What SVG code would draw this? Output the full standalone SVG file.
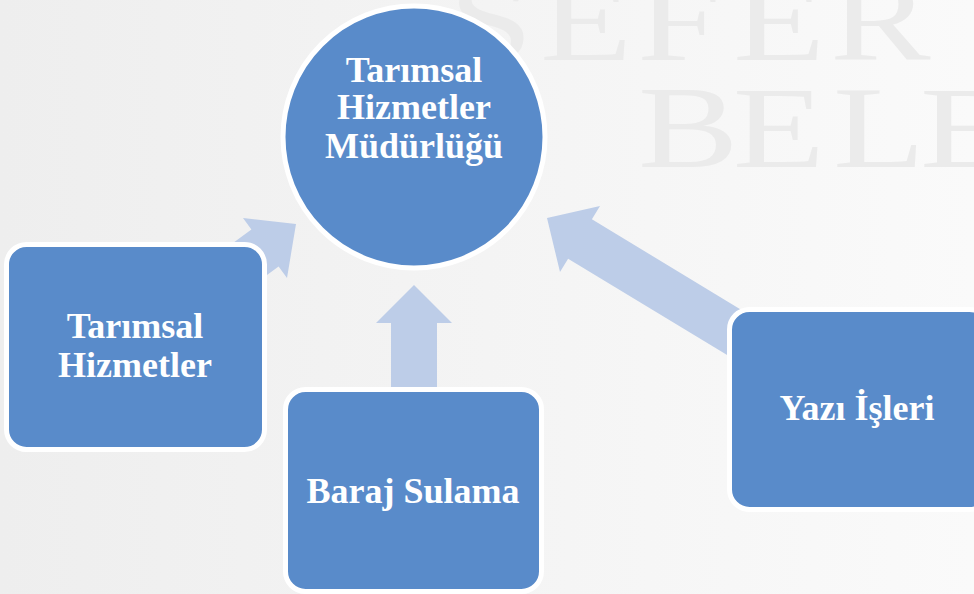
<svg xmlns="http://www.w3.org/2000/svg" width="974" height="594" viewBox="0 0 974 594">
  <defs>
    <linearGradient id="bg" x1="0" y1="0" x2="1" y2="0">
      <stop offset="0" stop-color="#EEEEEE"/>
      <stop offset="0.5" stop-color="#F4F4F4"/>
      <stop offset="1" stop-color="#FAFAFA"/>
    </linearGradient>
    <style>
      .node { fill: #598BCA; stroke: #FFFFFF; stroke-width: 5; }
      .arrow { fill: #BDCDE8; stroke: none; }
      .label { font-family: "Liberation Serif", "Times New Roman", serif; font-weight: bold; font-size: 36px; fill: #FFFFFF; text-anchor: middle; }
      .wm { font-family: "Liberation Serif", "Times New Roman", serif; font-size: 116px; fill: #EBEBEB; }
    </style>
  </defs>

  <rect x="0" y="0" width="974" height="594" fill="url(#bg)"/>
  <g id="watermark">
    <text class="wm" transform="translate(449,60) scale(1.3,1)" x="0 70 144.6 218.5 293" y="0">ŞEFER</text>
    <text class="wm" transform="translate(634,167) scale(1.3,1)" x="3 76 153 220" y="0">BELE</text>
  </g>

  <g id="connectors">
    <polygon class="arrow" points="296,224 287,278 278.6,266.5 198,325.6 170.8,288.6 251.4,229.5 243,218"/>
    <polygon class="arrow" points="414,285 452,323 437,323 437,420 391,420 391,323 376,323"/>
    <polygon class="arrow" points="547,218 600,206 591.9,219.3 762.9,322.9 739.1,362.3 568.1,258.7 560,272"/>
  </g>

  <g id="node-center">
    <circle class="node" cx="414" cy="137" r="131"/>
    <text class="label" x="414" y="82">Tarımsal</text>
    <text class="label" x="414" y="119">Hizmetler</text>
    <text class="label" x="414" y="158">Müdürlüğü</text>
  </g>

  <g id="node-tarimsal">
    <rect class="node" x="6.5" y="244.5" width="258" height="205" rx="20"/>
    <text class="label" x="135" y="338">Tarımsal</text>
    <text class="label" x="135" y="377">Hizmetler</text>
  </g>

  <g id="node-baraj">
    <rect class="node" x="285.5" y="389.5" width="256" height="202" rx="20"/>
    <text class="label" x="413" y="503">Baraj Sulama</text>
  </g>

  <g id="node-yazi">
    <rect class="node" x="729.5" y="309.5" width="260" height="200" rx="20"/>
    <text class="label" x="857" y="420">Yazı İşleri</text>
  </g>
</svg>
